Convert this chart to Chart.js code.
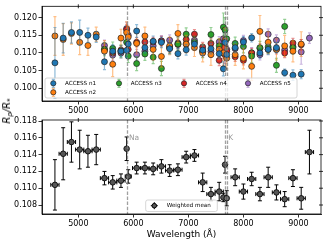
<!DOCTYPE html>
<html><head><meta charset="utf-8">
<script src="https://cdn.jsdelivr.net/npm/chart.js@4"></script>
<style>
body{margin:0;background:#fff;width:328px;height:243px;overflow:hidden;position:relative;font-family:"DejaVu Sans",sans-serif}
canvas{position:absolute;left:0}
#c1{top:0}
#c2{top:113px}
#ylab{position:absolute;left:8px;top:111px;transform:translate(-50%,-50%) rotate(-90deg);white-space:nowrap;font-style:italic;font-size:10px;color:#000;line-height:1}
#ylab sub{font-size:7px;vertical-align:-2px}
</style></head>
<body>
<canvas id="c1" width="328" height="120"></canvas>
<canvas id="c2" width="328" height="130"></canvas>
<div id="ylab">R<sub>p</sub>/R<sub>*</sub></div>
<script>
// ---------- DATA ----------
const bins = [4575,4725,4875,5025,5175,5325,5475,5625,5775,5878,5907,6060,6210,6360,6510,6660,6810,6960,7110,7260,7410,7560,7636,7666,7697,7850,8000,8150,8300,8450,8600,8750,8900,9050,9200];
const binHalf = [75,75,75,75,75,75,75,75,75,12,55,75,75,75,75,75,75,75,75,75,75,75,15,15,15,75,75,75,75,75,75,75,75,75,75];

const seriesNames = ["ACCESS n1","ACCESS n2","ACCESS n3","ACCESS n4","ACCESS n5"];
const n1 = [0.1072,0.1142,0.1158,0.1158,0.1150,0.1145,0.1075,0.1105,0.1105,0.1107,0.1125,0.1162,0.1115,0.1133,0.1130,0.1112,0.1098,0.1109,0.1125,0.1108,0.1112,0.1098,0.1055,0.1130,0.1095,0.1115,0.1131,0.1143,0.1100,0.1110,0.1115,0.1044,0.1037,0.1040,null];
const n1Err = [0.0100,0.0042,0.0030,0.0035,0.0020,0.0015,0.0022,0.0018,0.0015,0.0020,0.0015,0.0018,0.0015,0.0015,0.0015,0.0015,0.0015,0.0015,0.0015,0.0015,0.0015,0.0015,0.0020,0.0030,0.0015,0.0015,0.0015,0.0012,0.0015,0.0015,0.0015,0.0010,0.0015,0.0013,null];
const n2 = [0.1148,0.1138,0.1155,0.1130,0.1121,0.1153,0.1105,0.1068,0.1142,0.1158,0.1145,0.1127,0.1148,0.1110,0.1090,0.1120,0.1155,0.1125,0.1115,0.1100,0.1095,0.1110,0.1100,0.1135,0.1085,0.1095,0.1085,0.1062,0.1161,0.1130,0.1110,0.1120,0.1105,0.1125,null];
const n2Err = [0.0055,0.0045,0.0030,0.0035,0.0028,0.0020,0.0030,0.0035,0.0025,0.0030,0.0030,0.0030,0.0025,0.0030,0.0030,0.0025,0.0025,0.0025,0.0025,0.0025,0.0030,0.0030,0.0035,0.0035,0.0030,0.0030,0.0030,0.0040,0.0045,0.0030,0.0030,0.0030,0.0030,0.0035,null];
const n3 = [null,null,null,null,null,null,0.1110,0.1113,0.1105,0.1130,0.1091,0.1070,0.1097,0.1088,0.1056,0.1117,0.1125,0.1153,0.1130,0.1105,0.1152,0.1120,0.1173,0.1165,0.1140,0.1127,0.1118,0.1091,0.1115,0.1117,0.1065,0.1175,0.1115,null,null];
const n3Err = [null,null,null,null,null,null,0.0018,0.0018,0.0018,0.0020,0.0018,0.0020,0.0018,0.0018,0.0020,0.0018,0.0018,0.0018,0.0018,0.0018,0.0020,0.0020,0.0040,0.0035,0.0030,0.0018,0.0018,0.0018,0.0018,0.0018,0.0020,0.0020,0.0018,null,null];
const n4 = [null,null,null,null,null,null,0.1110,0.1100,0.1108,0.1166,0.1110,0.1130,0.1131,0.1131,0.1134,0.1114,0.1124,0.1138,0.1153,0.1117,0.1127,0.1079,0.1115,0.1095,0.1105,0.1089,0.1079,0.1100,0.1113,0.1110,0.1110,0.1100,0.1128,0.1123,null];
const n4Err = [null,null,null,null,null,null,0.0013,0.0013,0.0013,0.0015,0.0013,0.0013,0.0013,0.0013,0.0013,0.0013,0.0013,0.0013,0.0013,0.0013,0.0013,0.0015,0.0030,0.0025,0.0025,0.0013,0.0013,0.0013,0.0013,0.0013,0.0013,0.0013,0.0013,0.0015,null];
const n5 = [null,null,null,null,null,null,0.1121,0.1094,0.1100,0.1169,0.1150,0.1095,0.1105,0.1120,0.1134,0.1136,0.1128,0.1125,0.1136,0.1104,0.1104,0.1131,0.1140,0.1120,0.1110,0.1112,0.1135,0.1100,0.1095,0.1153,0.1136,0.1108,0.1118,0.1103,0.1142];
const n5Err = [null,null,null,null,null,null,0.0015,0.0015,0.0015,0.0018,0.0015,0.0015,0.0015,0.0015,0.0015,0.0015,0.0015,0.0015,0.0015,0.0015,0.0015,0.0015,0.0030,0.0025,0.0025,0.0015,0.0015,0.0015,0.0015,0.0015,0.0015,0.0015,0.0015,0.0035,0.0015];

const meanVals = [0.1104,0.1141,0.1155,0.1146,0.1144,0.1146,0.1112,0.1107,0.1109,0.1147,0.1114,0.1124,0.1124,0.1123,0.1126,0.1121,0.1122,0.1137,0.1139,0.1107,0.1093,0.1096,0.1089,0.1128,0.1088,0.1113,0.1096,0.1111,0.1093,0.1113,0.1095,0.1087,0.1112,0.1088,0.1143];
const meanErr = [0.0030,0.0031,0.0024,0.0023,0.0019,0.0018,0.0008,0.0008,0.0008,0.0014,0.0008,0.0007,0.0007,0.0007,0.0008,0.0007,0.0007,0.0007,0.0007,0.0011,0.0008,0.0011,0.0005,0.0010,0.0009,0.0010,0.0009,0.0008,0.0008,0.0012,0.0009,0.0009,0.0010,0.0013,0.0026];

const xTicks = [5000,6000,7000,8000,9000];
const yTicksTop = [0.100,0.105,0.110,0.115,0.120];
const yTicksBottom = [0.108,0.110,0.112,0.114,0.116,0.118];
const lineNa = [5893];
const linesK = [7665,7699];
const lineLabels = [{x:5893,text:"Na"},{x:7699,text:"K"}];

// ---------- STYLE ----------
const colors = ['#1f77b4','#ff7f0e','#2ca02c','#d62728','#9467bd'];
const errColors = ['rgba(31,119,180,0.5)','rgba(255,127,14,0.5)','rgba(44,160,44,0.5)','rgba(214,39,40,0.5)','rgba(148,103,189,0.5)'];
const FONT = '"DejaVu Sans", sans-serif';

function pts(ys){ return bins.map((b,i)=>({x:b,y:ys[i]})).filter(p=>p.y!=null); }
function errs(ys,es){ return bins.map((b,i)=>es[i]).filter((e,i)=>ys[i]!=null); }
function setTicks(vals){ return function(scale){ scale.ticks = vals.map(v=>({value:v})); }; }

const errPlugin = {
  id:'errbars',
  beforeDatasetDraw(chart,args){
    const ds = chart.data.datasets[args.index];
    if(!ds.yerr) return;
    const xs=chart.scales.x, ys=chart.scales.y, ctx=chart.ctx, a=chart.chartArea;
    ctx.save();
    ctx.beginPath(); ctx.rect(a.left,a.top,a.right-a.left,a.bottom-a.top); ctx.clip();
    ctx.strokeStyle=ds.errColor; ctx.lineWidth=ds.errWidth;
    const cap=ds.cap;
    ds.data.forEach((p,i)=>{
      const px=xs.getPixelForValue(p.x), py=ys.getPixelForValue(p.y);
      const e=ds.yerr[i];
      const y1=ys.getPixelForValue(p.y+e), y2=ys.getPixelForValue(p.y-e);
      ctx.beginPath();
      ctx.moveTo(px,y1); ctx.lineTo(px,y2);
      ctx.moveTo(px-cap,y1); ctx.lineTo(px+cap,y1);
      ctx.moveTo(px-cap,y2); ctx.lineTo(px+cap,y2);
      if(ds.xerr){
        const x1=xs.getPixelForValue(p.x-ds.xerr[i]), x2=xs.getPixelForValue(p.x+ds.xerr[i]);
        ctx.moveTo(x1,py); ctx.lineTo(x2,py);
        ctx.moveTo(x1,py-cap); ctx.lineTo(x1,py+cap);
        ctx.moveTo(x2,py-cap); ctx.lineTo(x2,py+cap);
      }
      ctx.stroke();
    });
    ctx.restore();
  }
};

function framePlugin(withLabels){
  return {
    id:'frame',
    afterDatasetsDraw(chart){
      const ctx=chart.ctx, a=chart.chartArea, xs=chart.scales.x, ys=chart.scales.y;
      ctx.save();
      ctx.strokeStyle='rgba(128,128,128,0.75)'; ctx.lineWidth=1.3; ctx.setLineDash([3.5,1.6]);
      lineNa.concat(linesK).forEach(v=>{
        const px=Math.round(xs.getPixelForValue(v))+0.5;
        ctx.beginPath(); ctx.moveTo(px,a.top); ctx.lineTo(px,a.bottom); ctx.stroke();
      });
      ctx.setLineDash([]);
      if(withLabels){
        ctx.fillStyle='#999'; ctx.font='7.5px '+FONT; ctx.textBaseline='middle'; ctx.textAlign='left';
        lineLabels.forEach(l=>{ ctx.fillText(l.text, xs.getPixelForValue(l.x)+1.5, a.top+18); });
      }
      ctx.strokeStyle='#000'; ctx.lineWidth=0.8;
      ctx.strokeRect(a.left,a.top,a.right-a.left,a.bottom-a.top);
      ctx.beginPath();
      xTicks.forEach(v=>{ const px=xs.getPixelForValue(v); ctx.moveTo(px,a.top-2); ctx.lineTo(px,a.top+2); });
      ys.ticks.forEach(t=>{ const py=ys.getPixelForValue(t.value); ctx.moveTo(a.right-2,py); ctx.lineTo(a.right+2,py); });
      ctx.stroke();
      ctx.restore();
    },
    afterDraw(chart){
      const ctx=chart.ctx, a=chart.chartArea;
      ctx.save();
      if(!withLabels){
        const L=a.left+3, T=78, R=297, B=98;
        ctx.fillStyle='rgba(255,255,255,0.8)'; ctx.strokeStyle='#ccc'; ctx.lineWidth=0.8;
        roundRect(ctx,L,T,R-L,B-T,2); ctx.fill(); ctx.stroke();
        const pos=[[53.3,83.3],[53.3,92.3],[119,83.3],[184,83.3],[248,83.3]];
        seriesNames.forEach((n,i)=>{
          const [mx,my]=pos[i];
          ctx.strokeStyle=errColors[i]; ctx.lineWidth=1.2;
          ctx.beginPath(); ctx.moveTo(mx,my-4); ctx.lineTo(mx,my+4);
          ctx.moveTo(mx-1.5,my-4); ctx.lineTo(mx+1.5,my-4); ctx.moveTo(mx-1.5,my+4); ctx.lineTo(mx+1.5,my+4); ctx.stroke();
          ctx.fillStyle=colors[i]; ctx.strokeStyle='#222'; ctx.lineWidth=0.7;
          ctx.beginPath(); ctx.arc(mx,my,2.6,0,Math.PI*2); ctx.fill(); ctx.stroke();
          ctx.fillStyle='#000'; ctx.font='5.6px '+FONT; ctx.textBaseline='middle'; ctx.textAlign='left';
          ctx.fillText(n,mx+11.7,my+0.3);
        });
      } else {
        const L=145.7, T=200-113, R=217.3, B=211.5-113;
        ctx.fillStyle='rgba(255,255,255,0.8)'; ctx.strokeStyle='#ccc'; ctx.lineWidth=0.8;
        roundRect(ctx,L,T,R-L,B-T,2); ctx.fill(); ctx.stroke();
        const mx=154.3, my=205.7-113;
        ctx.strokeStyle='#000'; ctx.lineWidth=1;
        ctx.beginPath(); ctx.moveTo(mx,my-3.5); ctx.lineTo(mx,my+3.5); ctx.moveTo(mx-3.5,my); ctx.lineTo(mx+3.5,my); ctx.stroke();
        ctx.fillStyle='#555'; ctx.beginPath(); ctx.arc(mx,my,2.3,0,Math.PI*2); ctx.fill(); ctx.stroke();
        ctx.fillStyle='#000'; ctx.font='5.6px '+FONT; ctx.textBaseline='middle'; ctx.textAlign='left';
        ctx.fillText('Weighted mean',166.7,my+0.3);
      }
      ctx.restore();
    }
  };
}
function roundRect(ctx,x,y,w,h,r){
  ctx.beginPath(); ctx.moveTo(x+r,y); ctx.lineTo(x+w-r,y); ctx.quadraticCurveTo(x+w,y,x+w,y+r);
  ctx.lineTo(x+w,y+h-r); ctx.quadraticCurveTo(x+w,y+h,x+w-r,y+h); ctx.lineTo(x+r,y+h);
  ctx.quadraticCurveTo(x,y+h,x,y+h-r); ctx.lineTo(x,y+r); ctx.quadraticCurveTo(x,y,x+r,y); ctx.closePath();
}

function xScale(withTitle){
  return {
    type:'linear', min:4340, max:9410,
    afterBuildTicks:setTicks(xTicks),
    afterFit(s){ s.height = withTitle?29:19; },
    grid:{display:true,drawOnChartArea:false,drawTicks:true,tickLength:3.5,tickWidth:0.8,tickColor:'#000'},
    border:{display:true,color:'#000',width:0.8},
    ticks:{color:'#000',font:{family:FONT,size:8},padding:1.5,maxRotation:0,autoSkip:false,callback:v=>String(v)},
    title:{display:withTitle,text:'Wavelength (Å)',color:'#000',font:{family:FONT,size:9},padding:{top:0,bottom:3}}
  };
}
function yScale(min,max,vals){
  return {
    type:'linear', min:min, max:max,
    afterBuildTicks:setTicks(vals),
    afterFit(s){ s.width = 42; },
    grid:{display:true,drawOnChartArea:false,drawTicks:true,tickLength:3.5,tickWidth:0.8,tickColor:'#000'},
    border:{display:true,color:'#000',width:0.8},
    ticks:{color:'#000',font:{family:FONT,size:8},padding:1.5,autoSkip:false,callback:v=>v.toFixed(3)}
  };
}

const topSeries=[[n1,n1Err],[n2,n2Err],[n3,n3Err],[n4,n4Err],[n5,n5Err]];
const topDatasets = topSeries.map(([v,e],i)=>({
  label:seriesNames[i], data:pts(v), yerr:errs(v,e), errColor:errColors[i], errWidth:1.2, cap:1.5,
  backgroundColor:colors[i], borderColor:'#222', borderWidth:0.7, pointRadius:3, showLine:false
}));

new Chart(document.getElementById('c1'),{
  type:'scatter',
  data:{datasets:topDatasets},
  options:{
    responsive:false, animation:false, devicePixelRatio:1,
    layout:{padding:{left:0,right:7,top:6,bottom:0}},
    plugins:{legend:{display:false},tooltip:{enabled:false}},
    scales:{x:xScale(false), y:yScale(0.0964,0.1232,yTicksTop)}
  },
  plugins:[errPlugin,framePlugin(false)]
});

new Chart(document.getElementById('c2'),{
  type:'scatter',
  data:{datasets:[{
    label:'Weighted mean', data:pts(meanVals), yerr:meanErr, xerr:binHalf, errColor:'#000', errWidth:1, cap:2,
    backgroundColor:'#555', borderColor:'#000', borderWidth:0.8, pointRadius:2.8, showLine:false
  }]},
  options:{
    responsive:false, animation:false, devicePixelRatio:1,
    layout:{padding:{left:0,right:7,top:7,bottom:0}},
    plugins:{legend:{display:false},tooltip:{enabled:false}},
    scales:{x:xScale(true), y:yScale(0.10693,0.11812,yTicksBottom)}
  },
  plugins:[errPlugin,framePlugin(true)]
});
</script>
</body></html>
